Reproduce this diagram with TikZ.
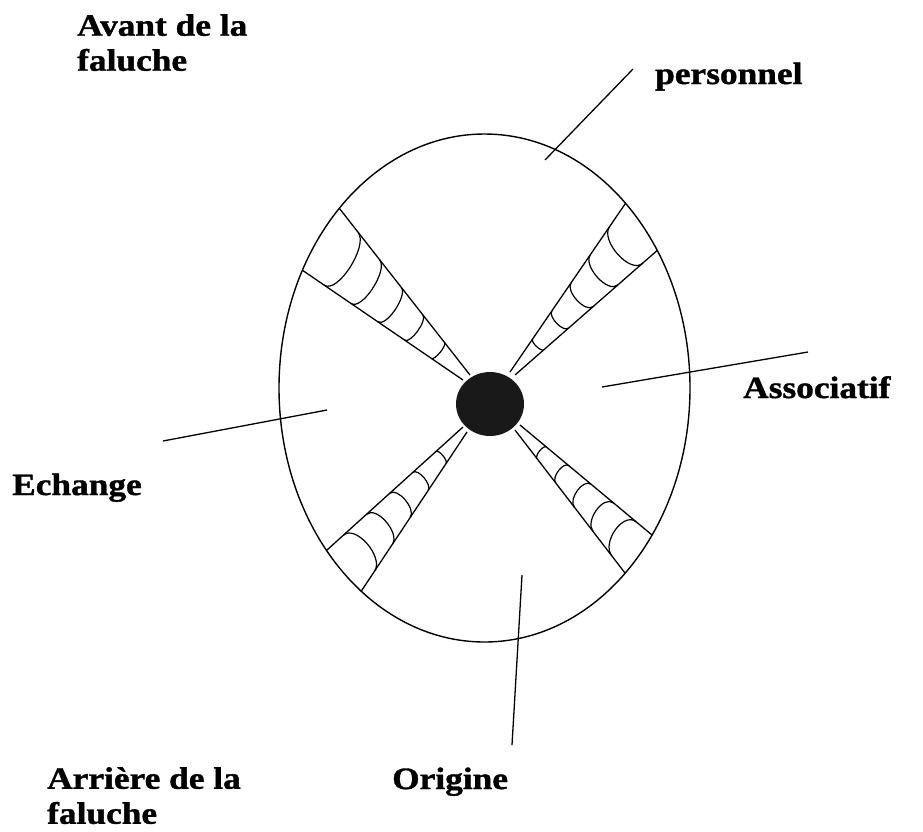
\documentclass[tikz,border=0pt]{standalone}
\usepackage{fontspec}
\newfontfamily\lbl[FakeStretch=1.14,FakeBold=1.2]{Liberation Serif}
\usetikzlibrary{calc}
\begin{document}
\begin{tikzpicture}[x=1pt,y=-1pt,
  outline/.style={line width=1.4pt,black},
  wedgeline/.style={line width=1.3pt,black},
  scallop/.style={line width=1.2pt,black},
  leader/.style={line width=1.3pt,black},
  lab/.style={font=\lbl\bfseries\fontsize{31}{35}\selectfont,inner sep=0pt,align=left}]
\useasboundingbox (0,0) rectangle (923,831);
\fill[white] (0,0) rectangle (923,831);
% ellipse
\coordinate (E) at (484.5,388);
\draw[outline] (E) ellipse [x radius=205.5, y radius=254];
\coordinate (C) at (490,404);
% wedge side coordinates
\coordinate (tla1) at (470,375); \coordinate (tla2) at (343,213);
\coordinate (tlb1) at (463,380); \coordinate (tlb2) at (305,272);
\coordinate (tra1) at (510,372); \coordinate (tra2) at (623,207);
\coordinate (trb1) at (515,375); \coordinate (trb2) at (660,248);
\coordinate (bla1) at (463,427); \coordinate (bla2) at (327,550);
\coordinate (blb1) at (467,432); \coordinate (blb2) at (362,590);
\coordinate (bra1) at (520,425); \coordinate (bra2) at (652,535);
\coordinate (brb1) at (515,430); \coordinate (brb2) at (625,573);
\begin{scope}
  \clip (E) ellipse [x radius=205.5, y radius=254];
  \foreach \w in {tl,tr,bl,br}{
    \draw[wedgeline] (\w a1) -- ($(\w a1)!1.2!(\w a2)$);
    \draw[wedgeline] (\w b1) -- ($(\w b1)!1.2!(\w b2)$);
    \foreach \t [evaluate=\t as \h using 19*\t] in {0.2,0.37,0.54,0.71,0.88}{
      \path ($(\w a1)!\t!(\w a2)$) coordinate (pa) ($(\w b1)!\t!(\w b2)$) coordinate (pb);
      \draw[scallop] (pa) .. controls ($(pa)!\h pt!(C)$) and ($(pb)!\h pt!(C)$) .. (pb);
    }
  }
\end{scope}
% centre dot
\fill[black!90] (C) ellipse [x radius=34, y radius=32];
% leader lines
\coordinate (l1a) at (545,160); \coordinate (l1b) at (633,69);
\coordinate (l2a) at (163,441); \coordinate (l2b) at (327,410);
\coordinate (l3a) at (602,387); \coordinate (l3b) at (808,352);
\coordinate (l4a) at (522,575); \coordinate (l4b) at (512,745);
\draw[leader] (l1a) -- (l1b);
\draw[leader] (l2a) -- (l2b);
\draw[leader] (l3a) -- (l3b);
\draw[leader] (l4a) -- (l4b);
% labels
\node[lab,anchor=north west] (avant) at (77,14) {Avant de la\\faluche};
\node[lab,anchor=base west] (perso) at (655,84) {personnel};
\node[lab,anchor=base west] (asso) at (743,398) {Associatif};
\node[lab,anchor=base west] (ech) at (12,495) {Echange};
\node[lab,anchor=base west] (orig) at (392,789) {Origine};
\node[lab,anchor=north west] (arr) at (47,767) {Arrière de la\\faluche};
\end{tikzpicture}
\end{document}
